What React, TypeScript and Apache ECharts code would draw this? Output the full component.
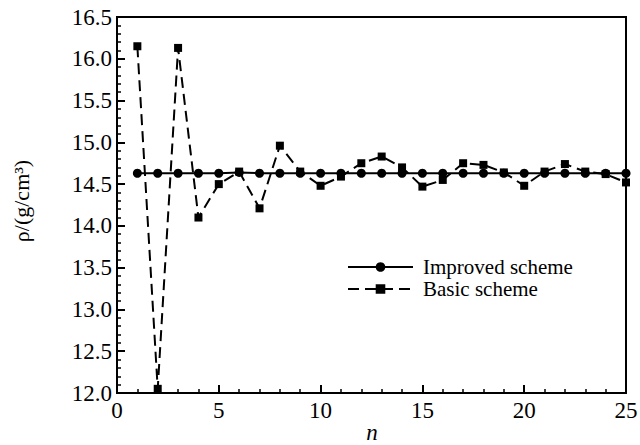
import React, { useEffect, useRef } from "react";
import * as echarts from "echarts";

const nValues = [1,2,3,4,5,6,7,8,9,10,11,12,13,14,15,16,17,18,19,20,21,22,23,24,25];
const improved = [14.63,14.63,14.63,14.63,14.63,14.64,14.63,14.63,14.63,14.63,14.63,14.63,14.63,14.63,14.63,14.63,14.63,14.63,14.63,14.63,14.63,14.63,14.63,14.63,14.63];
const basic = [16.15,12.05,16.13,14.1,14.5,14.65,14.21,14.96,14.65,14.48,14.59,14.75,14.83,14.7,14.47,14.55,14.75,14.73,14.64,14.48,14.65,14.74,14.65,14.62,14.52];
const seriesNames = ["Improved scheme", "Basic scheme"];
const xLabel = "n";
const yLabel = "ρ/(g/cm³)";

const FONT = "Liberation Serif";

export default function App() {
  const ref = useRef<HTMLDivElement>(null);
  useEffect(() => {
    if (!ref.current) return;
    const chart = echarts.init(ref.current, null, { renderer: "svg" });
    const axisCommon = {
      axisLine: { show: true, lineStyle: { color: "#000", width: 2 } },
      axisTick: { show: true, inside: true, length: 8, lineStyle: { color: "#000", width: 2 } },
      minorTick: { show: true, splitNumber: 5, length: 4, lineStyle: { color: "#000", width: 1.5 } },
      splitLine: { show: false },
      minorSplitLine: { show: false },
    };
    chart.setOption({
      animation: false,
      backgroundColor: "#fff",
      textStyle: { fontFamily: FONT },
      grid: {
        left: 117, right: 14, top: 17, bottom: 52,
        containLabel: false,
        outerBoundsMode: "none",
        show: true, borderColor: "#000", borderWidth: 2,
      },
      xAxis: {
        type: "value",
        min: 0,
        max: 25,
        interval: 5,
        ...axisCommon,
        axisLabel: { color: "#000", fontSize: 23, fontFamily: FONT, margin: 6 },
      },
      yAxis: {
        type: "value",
        min: 12,
        max: 16.5,
        interval: 0.5,
        ...axisCommon,
        axisLabel: { color: "#000", fontSize: 23, fontFamily: FONT, margin: 5, formatter: (v: number) => v.toFixed(1) },
      },
      legend: {
        orient: "vertical",
        left: 347,
        top: 256,
        padding: 0,
        itemWidth: 65,
        itemHeight: 12,
        itemGap: 0,
        textStyle: { color: "#000", fontSize: 21, fontFamily: FONT, lineHeight: 22, padding: [0, 0, 0, 5] },
        data: seriesNames,
      },
      graphic: [
        {
          type: "text",
          x: 21,
          y: 201,
          rotation: Math.PI / 2,
          style: {
            text: yLabel,
            fill: "#000",
            fontSize: 22,
            fontFamily: FONT,
            textAlign: "center",
            textVerticalAlign: "middle",
          },
        },
        {
          type: "text",
          x: 372,
          y: 432,
          style: {
            text: xLabel,
            fill: "#000",
            fontSize: 23,
            fontStyle: "italic",
            fontFamily: FONT,
            textAlign: "center",
            textVerticalAlign: "middle",
          },
        },
      ],
      series: [
        {
          name: seriesNames[0],
          type: "line",
          data: nValues.map((n, i) => [n, improved[i]]),
          symbol: "circle",
          symbolSize: 9,
          itemStyle: { color: "#000" },
          lineStyle: { color: "#000", width: 2, type: "solid" },
          z: 3,
        },
        {
          name: seriesNames[1],
          type: "line",
          data: nValues.map((n, i) => [n, basic[i]]),
          symbol: "rect",
          symbolSize: 8,
          itemStyle: { color: "#000" },
          lineStyle: { color: "#000", width: 2, type: [11, 6] },
          z: 2,
        },
      ],
    });
    return () => chart.dispose();
  }, []);
  return <div ref={ref} style={{ width: 640, height: 445, position: "absolute", left: 0, top: 0 }} />;
}
